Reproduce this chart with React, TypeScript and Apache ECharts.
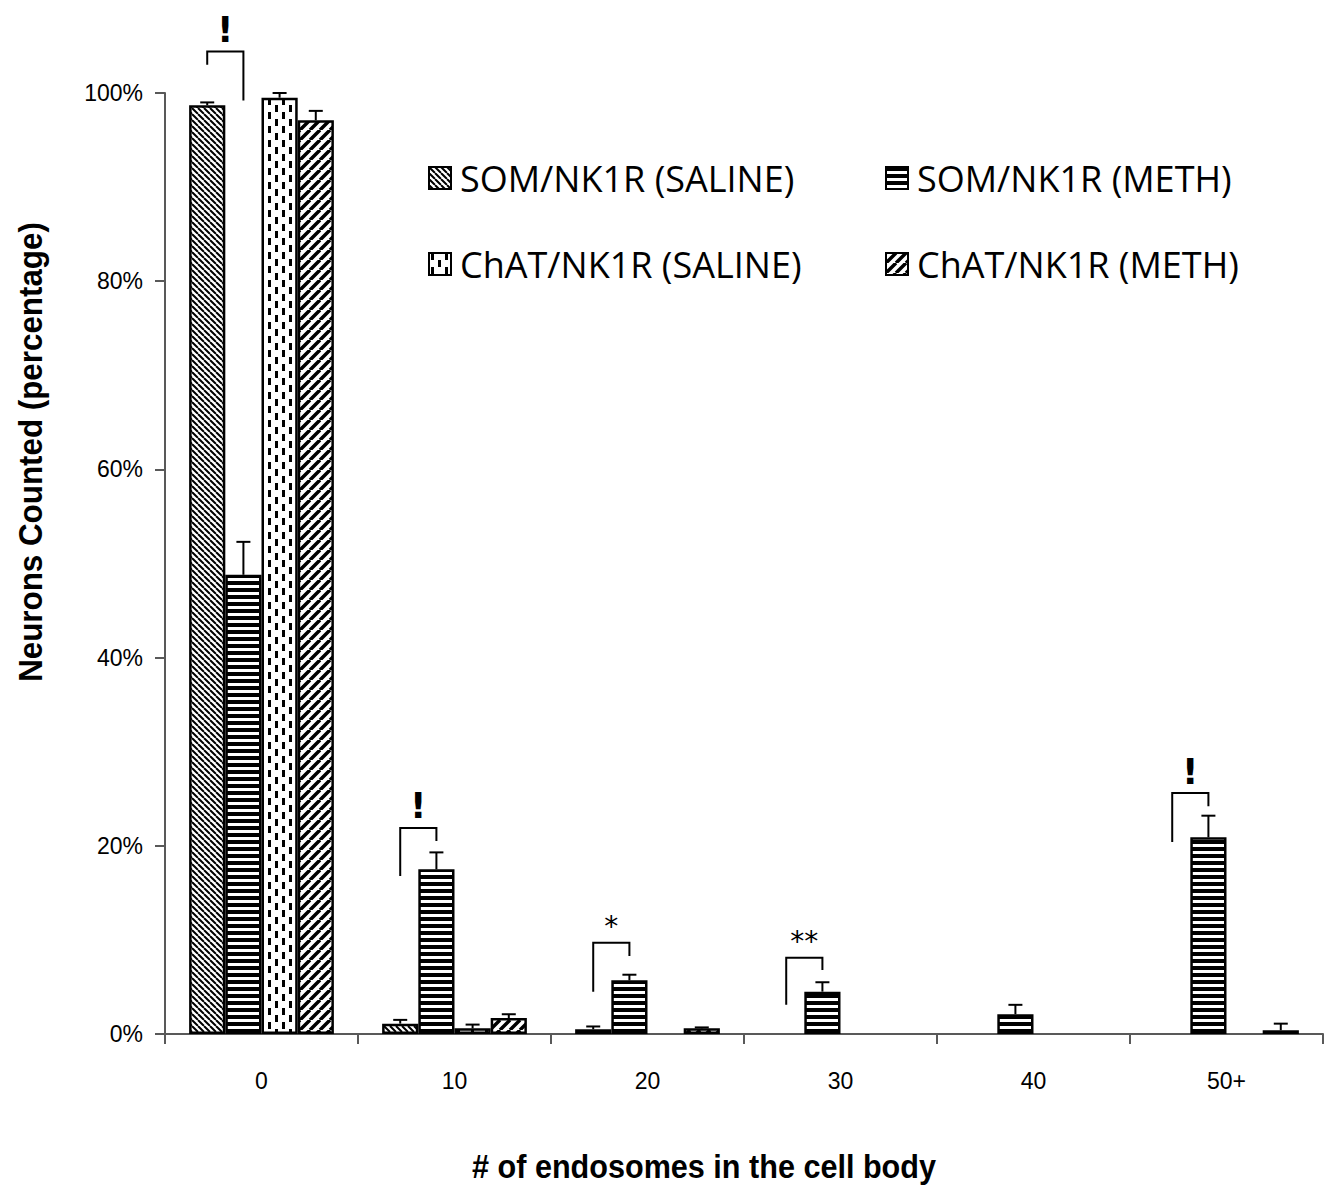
import React, { useEffect, useRef } from "react";
import * as echarts from "echarts";

const categories = ["0", "10", "20", "30", "40", "50+"];
const seriesNames = [
  "SOM/NK1R (SALINE)",
  "SOM/NK1R (METH)",
  "ChAT/NK1R (SALINE)",
  "ChAT/NK1R (METH)",
];

const somSaline = [98.7, 1.1, 0.5, null, null, null];
const somMeth = [48.8, 17.5, 5.7, 4.5, 2.1, 20.9];
const chatSaline = [99.5, 0.6, null, null, null, null];
const chatMeth = [97.1, 1.7, 0.6, null, null, 0.4];

const somSalineErr = [0.3, 0.4, 0.3, null, null, null];
const somMethErr = [3.5, 1.8, 0.6, 1.0, 1.0, 2.3];
const chatSalineErr = [0.5, 0.4, null, null, null, null];
const chatMethErr = [1.0, 0.4, 0.1, null, null, 0.7];

// significance brackets (SOM saline vs SOM meth)
const sigCategory = [0, 1, 2, 3, 5];
const sigLeftLow = [103.0, 16.8, 4.5, 3.1, 20.4];
const sigTop = [104.4, 21.9, 9.7, 8.1, 25.6];
const sigRightLow = [99.2, 20.5, 8.3, 6.8, 24.2];
const sigLabels = ["!", "!", "*", "**", "!"];

const yMin = 0;
const yMax = 100;
const yStep = 20;

function makeTile(w: number, h: number, draw: (ctx: CanvasRenderingContext2D) => void) {
  const c = document.createElement("canvas");
  c.width = w;
  c.height = h;
  const ctx = c.getContext("2d")!;
  ctx.fillStyle = "#fff";
  ctx.fillRect(0, 0, w, h);
  ctx.fillStyle = "#000";
  ctx.strokeStyle = "#000";
  draw(ctx);
  return c;
}

export default function App() {
  const ref = useRef<HTMLDivElement>(null);

  useEffect(() => {
    if (!ref.current) return;

    const backslash = makeTile(6, 6, (ctx) => {
      ctx.lineWidth = 2;
      ctx.beginPath();
      for (const k of [-6, 0, 6]) {
        ctx.moveTo(k, 0);
        ctx.lineTo(k + 6, 6);
      }
      ctx.stroke();
    });
    const horiz = makeTile(4, 7, (ctx) => {
      ctx.fillRect(0, 0, 4, 4);
    });
    const dashes = makeTile(14, 14, (ctx) => {
      ctx.fillRect(2, 0, 3, 7);
      ctx.fillRect(9, 7, 3, 7);
    });
    const slash = makeTile(10, 10, (ctx) => {
      ctx.lineWidth = 3.5;
      ctx.beginPath();
      for (const k of [-10, 0, 10]) {
        ctx.moveTo(k, 10);
        ctx.lineTo(k + 10, 0);
      }
      ctx.stroke();
    });
    const patterns = [backslash, horiz, dashes, slash].map((img) => ({
      image: img,
      repeat: "repeat",
    }));

    const values = [somSaline, somMeth, chatSaline, chatMeth];
    const errs = [somSalineErr, somMethErr, chatSalineErr, chatMethErr];

    const errData: number[][] = [];
    values.forEach((arr, s) => {
      arr.forEach((v, i) => {
        const e = errs[s][i];
        if (v != null && e != null) errData.push([i, s, v, v + e]);
      });
    });

    const sigData = sigCategory.map((c, i) => [c, sigLeftLow[i], sigTop[i], sigRightLow[i]]);

    const barOffset = (api: any, s: number) => {
      const bw = api.size([1, 0])[0];
      const total = bw * 0.75;
      const w = total / 4;
      return -total / 2 + w * (s + 0.5);
    };

    const chart = echarts.init(ref.current, null, { renderer: "svg" });

    const legendCommon = {
      itemWidth: 22,
      itemHeight: 22,
      padding: 0,
      selectedMode: false,
      icon: "rect",
      textStyle: {
        fontSize: 36,
        fontFamily: "Open Sans",
        color: "#000",
        lineHeight: 40,
        padding: [0, 0, 0, 4],
      },
    };

    chart.setOption({
      animation: false,
      backgroundColor: "#fff",
      grid: { left: 165, top: 93, width: 1158, height: 941, containLabel: false },
      legend: [
        { ...legendCommon, data: [seriesNames[0]], left: 428, top: 158 },
        { ...legendCommon, data: [seriesNames[1]], left: 885, top: 158 },
        { ...legendCommon, data: [seriesNames[2]], left: 428, top: 244 },
        { ...legendCommon, data: [seriesNames[3]], left: 885, top: 244 },
      ],
      xAxis: {
        type: "category",
        data: categories,
        boundaryGap: true,
        axisLine: { lineStyle: { color: "#595959", width: 2 } },
        axisTick: { show: true, length: 10, lineStyle: { color: "#595959", width: 2 } },
        axisLabel: {
          fontSize: 23,
          fontFamily: "Liberation Sans",
          color: "#000",
          margin: 35,
        },
      },
      yAxis: {
        type: "value",
        min: yMin,
        max: yMax,
        interval: yStep,
        axisLine: { show: true, lineStyle: { color: "#595959", width: 2 } },
        axisTick: { show: true, length: 10, lineStyle: { color: "#595959", width: 2 } },
        splitLine: { show: false },
        axisLabel: {
          formatter: "{value}%",
          fontSize: 23,
          fontFamily: "Liberation Sans",
          color: "#000",
          margin: 22,
        },
      },
      graphic: [
        {
          type: "text",
          x: 31,
          y: 452,
          rotation: Math.PI / 2,
          scaleX: 0.95,
          style: {
            text: "Neurons Counted (percentage)",
            font: "bold 33px 'Liberation Sans'",
            fill: "#000",
            align: "center",
            verticalAlign: "middle",
            textAlign: "center",
            textVerticalAlign: "middle",
          },
        },
        {
          type: "text",
          x: 704,
          y: 1166,
          scaleX: 0.9,
          style: {
            text: "# of endosomes in the cell body",
            font: "bold 34px 'Liberation Sans'",
            fill: "#000",
            align: "center",
            verticalAlign: "middle",
            textAlign: "center",
            textVerticalAlign: "middle",
          },
        },
      ],
      series: [
        ...seriesNames.map((name, s) => ({
          type: "bar",
          name,
          data: values[s],
          barGap: "0%",
          barCategoryGap: "25%",
          itemStyle: { color: patterns[s], borderColor: "#000", borderWidth: 2.5 },
          emphasis: { disabled: true },
          z: 2,
        })),
        {
          type: "custom",
          name: "err",
          data: errData,
          encode: { x: 0, y: 3 },
          z: 3,
          silent: true,
          renderItem: (params: any, api: any) => {
            const cat = api.value(0);
            const s = api.value(1);
            const v = api.value(2);
            const t = api.value(3);
            const off = barOffset(api, s);
            const p0 = api.coord([cat, v]);
            const p1 = api.coord([cat, t]);
            const x = p0[0] + off;
            return {
              type: "group",
              children: [
                {
                  type: "line",
                  shape: { x1: x, y1: p0[1], x2: x, y2: p1[1] },
                  style: { stroke: "#000", lineWidth: 2 },
                },
                {
                  type: "line",
                  shape: { x1: x - 7, y1: p1[1], x2: x + 7, y2: p1[1] },
                  style: { stroke: "#000", lineWidth: 2 },
                },
              ],
            };
          },
        },
        {
          type: "custom",
          name: "sig",
          data: sigData,
          encode: { x: 0, y: 2 },
          z: 3,
          silent: true,
          clip: false,
          renderItem: (params: any, api: any) => {
            const cat = api.value(0);
            const lLow = api.value(1);
            const top = api.value(2);
            const rLow = api.value(3);
            const c = api.coord([cat, 0]);
            const xl = c[0] + barOffset(api, 0);
            const xr = c[0] + barOffset(api, 1);
            const yl = api.coord([cat, lLow])[1];
            const yt = api.coord([cat, top])[1];
            const yr = api.coord([cat, rLow])[1];
            const label = sigLabels[params.dataIndex];
            const isStar = label.indexOf("*") >= 0;
            const ty = yt - (isStar ? 16 : 22);
            return {
              type: "group",
              children: [
                {
                  type: "polyline",
                  shape: { points: [[xl, yl], [xl, yt], [xr, yt], [xr, yr]] },
                  style: { stroke: "#000", lineWidth: 2, fill: "none" },
                },
                {
                  type: "text",
                  x: (xl + xr) / 2,
                  y: ty,
                  style: {
                    text: label,
                    font: isStar ? "28px 'DejaVu Sans'" : "bold 36px 'DejaVu Sans'",
                    fill: "#000",
                    align: "center",
                    verticalAlign: "middle",
                    textAlign: "center",
                    textVerticalAlign: "middle",
                  },
                },
              ],
            };
          },
        },
      ],
    });

    return () => chart.dispose();
  }, []);

  return (
    <div
      ref={ref}
      style={{ position: "absolute", left: 0, top: 0, width: 1334, height: 1186 }}
    />
  );
}
